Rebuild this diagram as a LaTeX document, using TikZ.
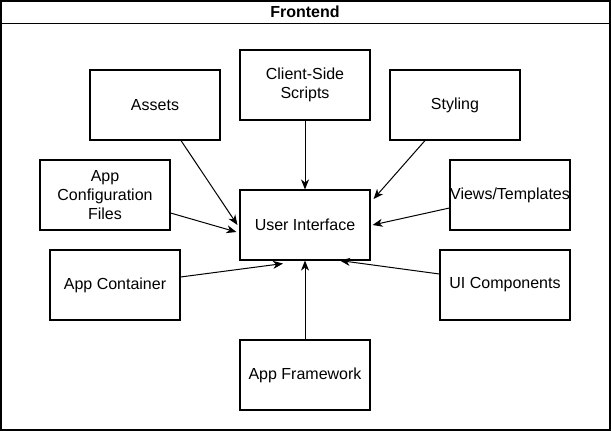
\documentclass[tikz,border=0pt]{standalone}
\usepackage{fontspec}
\setmainfont{Liberation Sans}
\usetikzlibrary{arrows.meta}

\begin{document}
\begin{tikzpicture}[x=1pt,y=-1pt,
    box/.style={draw,line width=1.1pt,minimum width=130pt,minimum height=70pt,inner sep=0pt,align=center,font=\fontsize{16}{19}\selectfont},
    link/.style={line width=1pt,-{Stealth[length=10pt,width=8pt,inset=3pt]}}]
  \useasboundingbox (0,0) rectangle (611,431);
  % frame and title
  \node[draw,line width=1.1pt,minimum width=609pt,minimum height=429pt,inner sep=0pt] (frame) at (305.5,215.5) {};
  \draw[line width=1.1pt] ([yshift=-23pt]frame.north west) -- ([yshift=-23pt]frame.north east);
  \node[font=\fontsize{16}{19}\selectfont\bfseries] (title) at (305,12) {Frontend};
  % boxes
  \node[box] (ui) at (305,225) {User Interface};
  \node[box] (assets) at (155,105) {Assets};
  \node[box] (scripts) at (305,85) {Client-Side\\Scripts};
  \node[box] (styling) at (455,105) {Styling};
  \node[box] (config) at (105,195) {App\\Configuration\\Files};
  \node[box,minimum width=120pt] (views) at (510,195) {Views/Templates};
  \node[box] (container) at (115,285) {App Container};
  \node[box] (uicomp) at (505,285) {UI Components};
  \node[box] (framework) at (305,375) {App Framework};
  % links into the interface
  \draw[link] ([xshift=26pt]assets.south) -- ([xshift=-2pt]ui.west);
  \draw[link] (scripts.south) -- (ui.north);
  \draw[link] ([xshift=-30pt]styling.south) -- ([xshift=3pt,yshift=26pt]ui.east);
  \draw[link] ([yshift=-18pt]config.east) -- ([xshift=-3pt,yshift=-7pt]ui.west);
  \draw[link] ([yshift=-13pt]views.west) -- ([xshift=2pt]ui.east);
  \draw[link] ([yshift=8pt]container.east) -- ([xshift=-22pt,yshift=-3pt]ui.south);
  \draw[link] ([yshift=11pt]uicomp.west) -- ([xshift=35pt]ui.south);
  \draw[link] (framework.north) -- (ui.south);
\end{tikzpicture}
\end{document}
